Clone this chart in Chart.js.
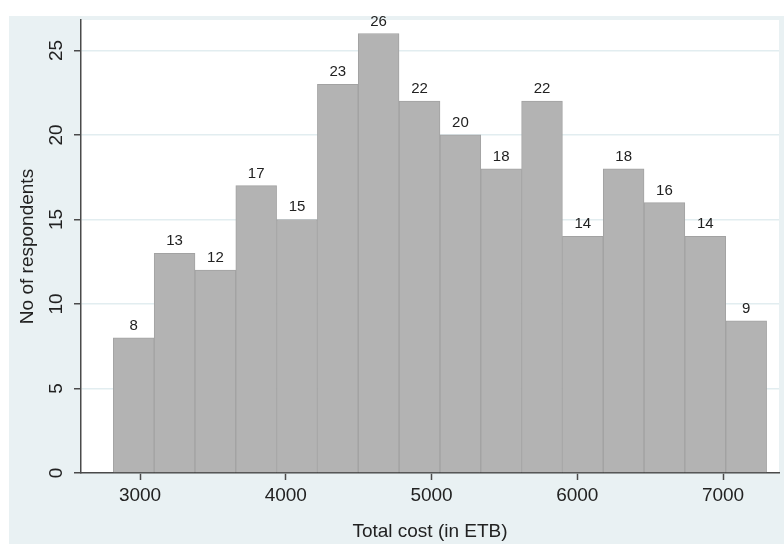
<!DOCTYPE html>
<html>
<head>
<meta charset="utf-8">
<script src="https://cdn.jsdelivr.net/npm/chart.js@4/dist/chart.umd.min.js"></script>
<style>
  html, body { margin: 0; padding: 0; background: #fff; }
  #wrap { width: 784px; height: 544px; position: relative; }
</style>
</head>
<body>
<div id="wrap"><canvas id="myChart"></canvas></div>
<script>
// histogram bins (centre of each bin, in ETB) and counts
const binCenters = [2957, 3237, 3517, 3797, 4077, 4357, 4637, 4918, 5198, 5478, 5758, 6038, 6318, 6598, 6878, 7159]
const counts = [8, 13, 12, 17, 15, 23, 26, 22, 20, 18, 22, 14, 18, 16, 14, 9]
const xTicks = [3000, 4000, 5000, 6000, 7000]
const yTicks = [0, 5, 10, 15, 20, 25]

const font = "'Liberation Sans', Arial, Helvetica, sans-serif"
const textColor = '#222'
const axisColor = '#4a4a4a'

// paints the light blue frame and white plot region
const background = {
    id: 'background',
    beforeDraw(chart) {
        const ctx = chart.ctx
        const a = chart.chartArea
        ctx.save()
        ctx.fillStyle = '#ffffff'
        ctx.fillRect(0, 0, chart.width, chart.height)
        ctx.fillStyle = '#e9f1f3'
        ctx.fillRect(9, 16, chart.width - 9, chart.height - 16)
        ctx.fillStyle = '#ffffff'
        ctx.fillRect(a.left, a.top, a.right - a.left, a.bottom - a.top)
        ctx.restore()
    }
}

// rotated y tick labels + value labels above bars
const labels = {
    id: 'labels',
    afterDraw(chart) {
        const ctx = chart.ctx
        const y = chart.scales.y
        ctx.save()
        ctx.fillStyle = textColor
        ctx.font = '19px ' + font
        ctx.textAlign = 'center'
        ctx.textBaseline = 'middle'
        y.ticks.forEach(t => {
            ctx.save()
            ctx.translate(57, y.getPixelForValue(t.value))
            ctx.rotate(-Math.PI / 2)
            ctx.fillText(String(t.value), 0, 0)
            ctx.restore()
        })
        ctx.beginPath()
        ctx.rect(0, 16, chart.width, chart.height - 16)
        ctx.clip()
        ctx.font = '15px ' + font
        ctx.textBaseline = 'alphabetic'
        chart.getDatasetMeta(0).data.forEach((bar, i) => {
            ctx.fillText(String(counts[i]), bar.x, bar.y - 8)
        })
        ctx.restore()
    }
}

const ctx = document.getElementById('myChart').getContext('2d')
const myChart = new Chart(ctx, {
    type: 'bar',
    data: {
        datasets: [{
            data: binCenters.map((c, i) => ({ x: c, y: counts[i] })),
            backgroundColor: '#b3b3b3',
            borderColor: '#a2a2a2',
            borderWidth: 1,
            barPercentage: 1,
            categoryPercentage: 1
        }]
    },
    options: {
        responsive: true,
        maintainAspectRatio: false,
        animation: false,
        layout: { padding: { left: 0, top: 20, right: 5, bottom: 0 } },
        plugins: { legend: { display: false }, tooltip: { enabled: false } },
        scales: {
            x: {
                type: 'linear',
                offset: false,
                min: 2595,
                max: 7384,
                afterBuildTicks: s => { s.ticks = xTicks.map(v => ({ value: v })) },
                afterFit: s => { s.height = 71 },
                grid: { offset: false, drawOnChartArea: false, tickLength: 7, tickColor: axisColor, tickWidth: 1.5 },
                border: { color: axisColor, width: 1.5 },
                ticks: {
                    color: textColor,
                    font: { family: font, size: 19 },
                    padding: 4,
                    maxRotation: 0,
                    callback: v => String(v)
                },
                title: {
                    display: true,
                    text: 'Total cost (in ETB)',
                    color: textColor,
                    font: { family: font, size: 19 },
                    padding: { top: 0, bottom: 1 }
                }
            },
            y: {
                min: 0,
                max: 26.8,
                afterBuildTicks: s => { s.ticks = yTicks.map(v => ({ value: v })) },
                afterFit: s => { s.width = 81 },
                grid: { color: '#e2edf0', lineWidth: 1.5, tickLength: 7, tickColor: axisColor, tickWidth: 1.5 },
                border: { color: axisColor, width: 1.5 },
                ticks: { display: false },
                title: {
                    display: true,
                    text: 'No of respondents',
                    color: textColor,
                    font: { family: font, size: 19 },
                    padding: { top: 16, bottom: 0 }
                }
            }
        }
    },
    plugins: [background, labels]
})
</script>
</body>
</html>
